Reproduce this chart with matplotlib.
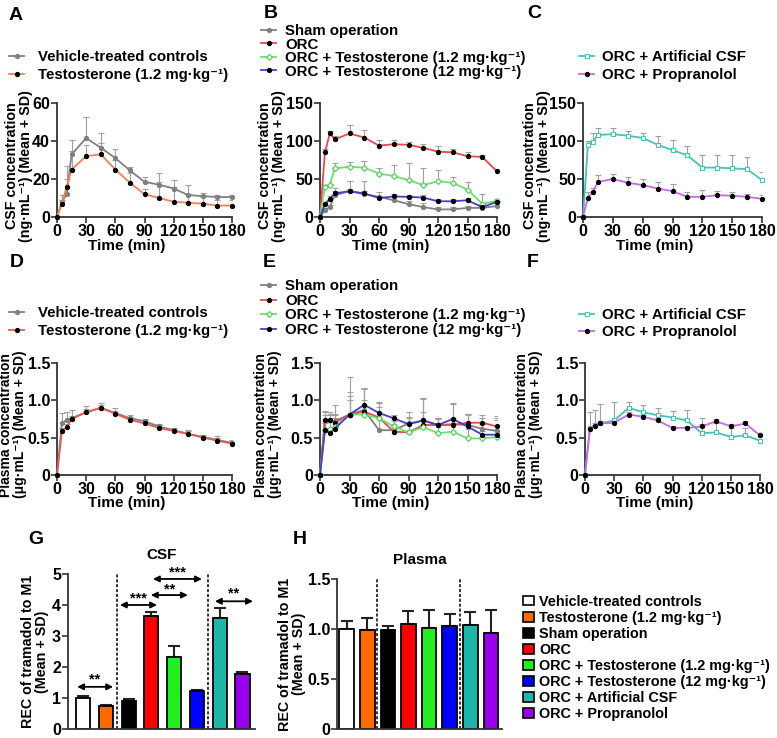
import numpy as np
import matplotlib
matplotlib.use("Agg")
import matplotlib.pyplot as plt
from matplotlib.lines import Line2D
from matplotlib.patches import Patch

plt.rcParams["font.family"] = ["Liberation Sans", "DejaVu Sans"]
plt.rcParams["font.weight"] = "bold"
plt.rcParams["axes.labelweight"] = "bold"

# === Data ===
t = [0, 5, 10, 15, 30, 45, 60, 75, 90, 105, 120, 135, 150, 165, 180]

# A: CSF, vehicle vs testosterone
csf_vehicle = [0, 8, 12, 33, 41.5, 36.5, 31, 24.5, 18.5, 17, 15, 11.5, 11, 10.5, 10.5]
csf_vehicle_sd = [0, 3.5, 15, 7.5, 11, 7.5, 5, 2, 2.5, 6, 4.5, 5.5, 1.5, 1, 1]
csf_testo = [0, 7, 16, 25, 32, 33, 25, 18, 12, 10, 8, 7.5, 7, 6, 6]
csf_testo_sd = [0, 2, 4, 10, 6, 6, 5, 5, 3, 8.5, 8, 4.5, 3.5, 2.8, 2.8]

# B: CSF, ORC groups
csf_sham = [0, 9, 13, 28.7, 34, 30, 26.5, 22, 17, 13, 10, 10, 12, 12, 14.5]
csf_sham_sd = [0, 3, 3, 9, 14, 18, 6, 5, 4, 5, 3, 3, 3, 3, 3]
csf_orc = [0, 85, 110, 102, 110, 104.5, 94, 95.7, 95, 91, 86, 85, 80, 79, 60]
csf_orc_sd = [0, 5, 3, 4, 11, 10, 7, 6, 4, 5, 8, 5, 5, 2, 1.5]
csf_orc_t12 = [0, 40, 42, 64, 66, 65, 57, 54, 48.5, 42, 47, 45, 36, 17.6, 21]
csf_orc_t12_sd = [0, 2, 2, 7, 7, 9, 7, 14, 22, 22, 15, 8, 10, 13, 3]
csf_orc_t120 = [0, 17, 24, 31, 34, 31, 25, 27, 26.5, 25.6, 20.7, 20.7, 22, 13, 20]
csf_orc_t120_sd = [0, 3, 3, 3, 3, 3, 3, 3, 3, 3, 3, 3, 3, 3, 3]

# C: CSF, artificial CSF vs propranolol
csf_acsf = [0, 95, 99, 108, 109, 107, 104, 95, 88, 81, 65, 65, 64, 63, 48.5]
csf_acsf_sd = [0, 5, 11, 9, 8, 6, 6, 11, 13, 12, 17, 17, 18, 16, 11]
csf_prop = [0, 25.6, 33, 46, 50, 45, 42, 37.5, 34, 26.5, 26.5, 28.7, 28, 26.5, 24]
csf_prop_sd = [0, 7, 5, 9, 7, 8, 8, 8, 10, 7, 9, 5, 5, 4, 4.5]

# D: plasma, vehicle vs testosterone
pl_vehicle = [0, 0.69, 0.74, 0.76, 0.84, 0.9, 0.83, 0.76, 0.72, 0.65, 0.6, 0.55, 0.51, 0.47, 0.43]
pl_vehicle_sd = [0, 0.14, 0.11, 0.11, 0.08, 0.07, 0.07, 0.05, 0.03, 0.03, 0.03, 0.05, 0.03, 0.05, 0.04]
pl_testo = [0, 0.59, 0.64, 0.75, 0.84, 0.9, 0.82, 0.74, 0.69, 0.63, 0.59, 0.55, 0.5, 0.46, 0.42]
pl_testo_sd = [0, 0.04, 0.04, 0.04, 0.04, 0.04, 0.04, 0.04, 0.04, 0.04, 0.04, 0.04, 0.03, 0.03, 0.03]

# E: plasma, ORC groups
pl_sham = [0, 0.74, 0.74, 0.72, 0.81, 0.87, 0.6, 0.6, 0.69, 0.73, 0.67, 0.68, 0.67, 0.62, 0.59]
pl_sham_sd = [0, 0.12, 0.1, 0.22, 0.5, 0.3, 0.25, 0.12, 0.15, 0.3, 0.1, 0.28, 0.15, 0.15, 0.18]
pl_orc = [0, 0.74, 0.74, 0.7, 0.81, 0.85, 0.77, 0.58, 0.57, 0.67, 0.67, 0.67, 0.7, 0.7, 0.65]
pl_orc_sd = [0, 0.1, 0.08, 0.1, 0.2, 0.3, 0.2, 0.1, 0.12, 0.35, 0.08, 0.1, 0.12, 0.1, 0.14]
pl_orc_t12 = [0, 0.6, 0.61, 0.64, 0.81, 0.81, 0.76, 0.65, 0.57, 0.64, 0.56, 0.58, 0.49, 0.49, 0.51]
pl_orc_t12_sd = [0, 0.1, 0.1, 0.12, 0.25, 0.2, 0.15, 0.1, 0.2, 0.2, 0.12, 0.15, 0.12, 0.1, 0.1]
pl_orc_t120 = [0, 0.6, 0.56, 0.62, 0.81, 0.94, 0.83, 0.76, 0.68, 0.73, 0.67, 0.75, 0.65, 0.54, 0.54]
pl_orc_t120_sd = [0, 0.2, 0.25, 0.2, 0.3, 0.22, 0.15, 0.05, 0.1, 0.3, 0.1, 0.2, 0.15, 0.14, 0.2]

# F: plasma, artificial CSF vs propranolol
pl_acsf = [0, 0.63, 0.67, 0.69, 0.73, 0.9, 0.84, 0.8, 0.77, 0.73, 0.56, 0.57, 0.51, 0.53, 0.46]
pl_acsf_sd = [0, 0.22, 0.2, 0.26, 0.25, 0.08, 0.1, 0.1, 0.09, 0.14, 0.2, 0.12, 0.12, 0.1, 0.05]
pl_prop = [0, 0.61, 0.66, 0.69, 0.7, 0.81, 0.78, 0.73, 0.63, 0.63, 0.65, 0.72, 0.65, 0.69, 0.53]
pl_prop_sd = [0, 0.03, 0.03, 0.03, 0.03, 0.03, 0.03, 0.03, 0.03, 0.03, 0.03, 0.03, 0.03, 0.03, 0.03]

# G/H: REC of tramadol to M1
groups = ["Vehicle-treated controls", "Testosterone (1.2 mg·kg⁻¹)", "Sham operation", "ORC",
          "ORC + Testosterone (1.2 mg·kg⁻¹)", "ORC + Testosterone (12 mg·kg⁻¹)",
          "ORC + Artificial CSF", "ORC + Propranolol"]
bar_colors = ["white", "#ff6a00", "black", "#ff0000", "#22ee22", "#0000ff", "#1fb5a8", "#9b00ee"]
rec_csf = [1.0, 0.73, 0.91, 3.65, 2.33, 1.22, 3.57, 1.79]
rec_csf_sd = [0.08, 0.05, 0.06, 0.13, 0.35, 0.05, 0.33, 0.05]
rec_plasma = [1.0, 0.99, 0.99, 1.05, 1.01, 1.03, 1.04, 0.96]
rec_plasma_sd = [0.077, 0.12, 0.04, 0.13, 0.18, 0.12, 0.13, 0.23]

# === Figure ===
W, H = 777, 738
fig = plt.figure(figsize=(W / 100, H / 100), dpi=100)


def add_ax(x0, y0, x1, y1):
    return fig.add_axes([x0 / W, 1 - y1 / H, (x1 - x0) / W, (y1 - y0) / H])


def style(ax):
    for s in ["top", "right"]:
        ax.spines[s].set_visible(False)
    for s in ["left", "bottom"]:
        ax.spines[s].set_linewidth(1.3)
        ax.spines[s].set_color("#333333")
    ax.tick_params(direction="out", length=4, width=1.2, color="#333333", labelsize=11.5, pad=1)


def series(ax, y, sd, color, mfc="black", mec="black", marker="o"):
    y = np.array(y)
    top = y + np.array(sd)
    ax.vlines(t, y, top, color="#a0a0a0", lw=0.8, zorder=2)
    ax.plot(t, top, ls="none", marker="_", ms=4, mew=0.8, color="#a0a0a0", zorder=2)
    ax.plot(t, y, color=color, lw=1.3, marker=marker, ms=3, mfc=mfc, mec=mec, mew=0.8,
            zorder=3, clip_on=False)
    return Line2D([], [], color=color, lw=1.3, marker=marker, ms=3, mfc=mfc, mec=mec, mew=0.8)


def time_axes(ax, ymax, yticks, ylabels, ylabel, label_x, label_size):
    style(ax)
    ax.set_xlim(0, 180)
    ax.set_ylim(0, ymax)
    ax.set_xticks(range(0, 181, 30))
    ax.set_yticks(yticks)
    ax.set_yticklabels(ylabels)
    ax.set_xlabel("Time (min)", fontsize=11)
    ax.xaxis.set_label_coords(0.4, -0.19)
    ax.set_ylabel(ylabel, fontsize=label_size, linespacing=1.0)
    ax.yaxis.set_label_coords(label_x, 0.45)


def line_legend(ax, handles, labels, x, y, spacing, pad=0.9):
    ax.legend(handles, labels, loc="upper left", bbox_to_anchor=(x / W, 1 - y / H),
              bbox_transform=fig.transFigure, frameon=False, fontsize=10.8,
              handlelength=1.0, handletextpad=pad, labelspacing=spacing,
              borderpad=0, borderaxespad=0)


gray = "#808080"
csf_label = "CSF concentration\n(ng·mL⁻¹) (Mean + SD)"
pl_label = "Plasma concentration\n(μg·mL⁻¹) (Mean + SD)"
csf_ticks = [0, 50, 100, 150]
pl_ticks = [0, 0.5, 1.0, 1.5]
pl_ticklabels = ["0", "0.5", "1.0", "1.5"]

# A
axA = add_ax(57, 103, 232, 217)
time_axes(axA, 60, [0, 20, 40, 60], ["0", "20", "40", "60"], csf_label, -0.137, 10.3)
hA = [series(axA, csf_vehicle, csf_vehicle_sd, gray, mfc=gray, mec=gray),
      series(axA, csf_testo, csf_testo_sd, "#f28058")]
line_legend(axA, hA, [groups[0], groups[1]], 9, 50, 0.28)

# B
axB = add_ax(320, 103, 497, 217)
time_axes(axB, 150, csf_ticks, [str(v) for v in csf_ticks], csf_label, -0.19, 10.3)
hB = [series(axB, csf_sham, csf_sham_sd, gray, mfc=gray, mec=gray),
      series(axB, csf_orc, csf_orc_sd, "#e8484c"),
      series(axB, csf_orc_t12, csf_orc_t12_sd, "#6ee06e", mfc="white", mec="#4ccc4c", marker="D"),
      series(axB, csf_orc_t120, csf_orc_t120_sd, "#4040d0")]
line_legend(axB, hB, groups[2:6], 261, 24, -0.03, pad=0.6)

# C
axC = add_ax(583, 103, 762, 217)
time_axes(axC, 150, csf_ticks, [str(v) for v in csf_ticks], csf_label, -0.18, 10.3)
hC = [series(axC, csf_acsf, csf_acsf_sd, "#45c4b4", mfc="white", mec="#45c4b4", marker="s"),
      series(axC, csf_prop, csf_prop_sd, "#cc66ee")]
line_legend(axC, hC, groups[6:8], 579, 50, 0.28, pad=0.5)

# D
axD = add_ax(57, 363, 232, 475)
time_axes(axD, 1.5, pl_ticks, pl_ticklabels, pl_label, -0.17, 10.0)
hD = [series(axD, pl_vehicle, pl_vehicle_sd, gray, mfc=gray, mec=gray),
      series(axD, pl_testo, pl_testo_sd, "#ea5a50")]
line_legend(axD, hD, [groups[0], groups[1]], 9, 306, 0.3)

# E
axE = add_ax(320, 363, 497, 475)
time_axes(axE, 1.5, pl_ticks, pl_ticklabels, pl_label, -0.215, 10.0)
hE = [series(axE, pl_sham, pl_sham_sd, gray, mfc=gray, mec=gray),
      series(axE, pl_orc, pl_orc_sd, "#e8484c"),
      series(axE, pl_orc_t12, pl_orc_t12_sd, "#6ee06e", mfc="white", mec="#4ccc4c", marker="D"),
      series(axE, pl_orc_t120, pl_orc_t120_sd, "#4040d0")]
line_legend(axE, hE, groups[2:6], 261, 279, 0.05, pad=0.6)

# F
axF = add_ax(585, 363, 760, 475)
time_axes(axF, 1.5, pl_ticks, pl_ticklabels, pl_label, -0.24, 10.0)
hF = [series(axF, pl_acsf, pl_acsf_sd, "#45c4b4", mfc="white", mec="#45c4b4", marker="s"),
      series(axF, pl_prop, pl_prop_sd, "#cc66ee")]
line_legend(axF, hF, groups[6:8], 579, 308, 0.22, pad=0.5)

# G / H bars
x = np.arange(8)


def bar_axes(ax, vals, sds, width, xlim, ylim, yticks, ylabels, title, label_x):
    style(ax)
    ax.bar(x, vals, width=width, color=bar_colors, edgecolor="black", linewidth=1.3, zorder=2)
    ax.errorbar(x, vals, yerr=[np.zeros(8), sds], fmt="none", ecolor="#222222",
                elinewidth=1.5, capsize=4, capthick=1.5, zorder=1)
    for xv in (1.47, 5.5):
        ax.axvline(xv, color="black", lw=1.1, ls=(0, (2, 1.2)), zorder=0)
    ax.set_xlim(*xlim)
    ax.set_ylim(*ylim)
    ax.set_yticks(yticks)
    ax.set_yticklabels(ylabels)
    ax.set_xticks([])
    ax.set_title(title, fontsize=11, fontweight="bold", pad=11)
    ax.set_ylabel("REC of tramadol to M1\n(Mean + SD)", fontsize=10.3, linespacing=1.0)
    ax.yaxis.set_label_coords(label_x, 0.5)


axG = add_ax(68, 574, 255, 729)
bar_axes(axG, rec_csf, rec_csf_sd, 0.62, (-0.66, 7.55), (0, 5), range(6),
         [str(v) for v in range(6)], "CSF", -0.1)

# significance arrows in G
sig = [(-0.26, 1.32, 1.36, 1.6, "**"),
       (1.62, 3.25, 4.0, 4.22, "***"),
       (2.98, 4.6, 4.32, 4.5, "**"),
       (3.07, 5.22, 4.84, 5.05, "***"),
       (5.79, 7.46, 4.12, 4.36, "**")]
for x0, x1, ya, ys, stars in sig:
    axG.annotate("", xy=(x0, ya), xytext=(x1, ya),
                 arrowprops=dict(arrowstyle="<|-|>", color="black", lw=1.3,
                                 mutation_scale=9, shrinkA=0, shrinkB=0))
    axG.text((x0 + x1) / 2, ys, stars, ha="center", va="center", fontsize=10.5)

axH = add_ax(337, 579, 502, 729)
bar_axes(axH, rec_plasma, rec_plasma_sd, 0.71, (-0.47, 7.54), (0, 1.5), pl_ticks,
         pl_ticklabels, "Plasma", -0.185)

bar_handles = [Patch(facecolor=c, edgecolor="black", linewidth=1.2) for c in bar_colors]
axH.legend(bar_handles, groups, loc="upper left", bbox_to_anchor=(523 / W, 1 - 595 / H),
           bbox_transform=fig.transFigure, frameon=False, fontsize=10.4,
           handlelength=0.75, handleheight=0.6, handletextpad=0.35, labelspacing=0.14,
           borderpad=0, borderaxespad=0)

# panel letters
for letter, px, py in [("A", 9, 16), ("B", 264, 13), ("C", 527, 14),
                       ("D", 10, 262), ("E", 263, 262), ("F", 527, 262),
                       ("G", 28, 539), ("H", 293, 540)]:
    fig.text(px / W, 1 - py / H, letter, fontsize=14, fontweight="bold", va="center")

plt.savefig("out.png", dpi=100)
